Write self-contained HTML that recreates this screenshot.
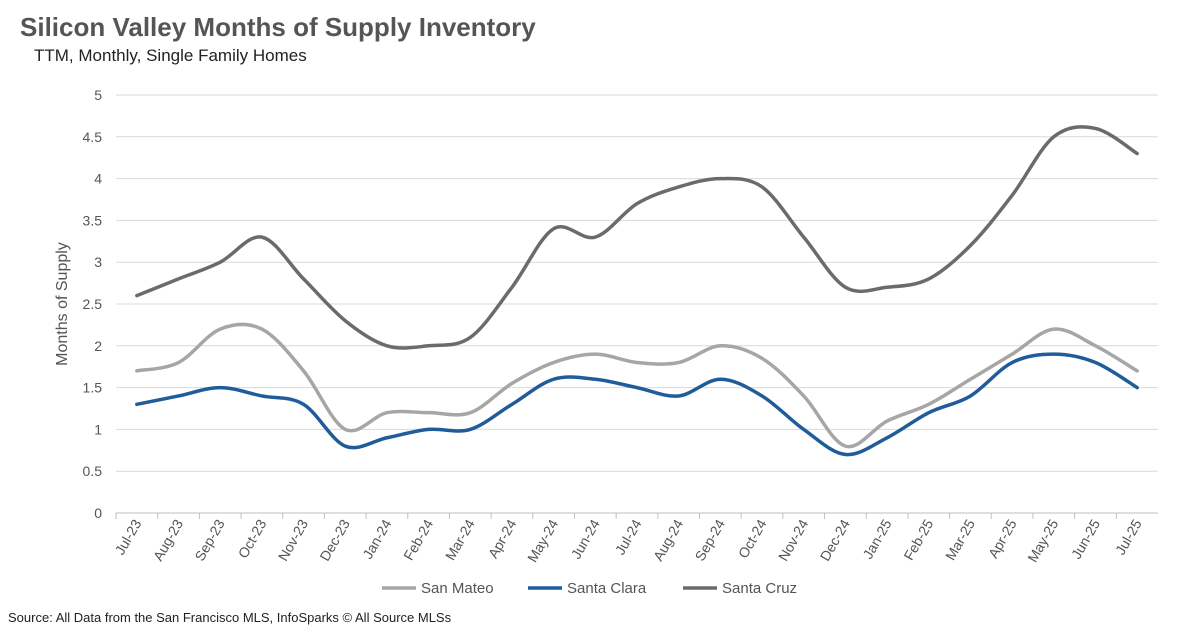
<!DOCTYPE html>
<html><head><meta charset="utf-8"><style>
body{margin:0;background:#fff;width:1178px;height:632px;overflow:hidden;font-family:"Liberation Sans",sans-serif}
</style></head><body>
<svg width="1178" height="632" xmlns="http://www.w3.org/2000/svg">
<text x="20" y="36" font-size="26" font-weight="bold" fill="#555">Silicon Valley Months of Supply Inventory</text>
<text x="34" y="61" font-size="17" fill="#222">TTM, Monthly, Single Family Homes</text>
<text transform="translate(67,304) rotate(-90)" text-anchor="middle" font-size="16" fill="#555">Months of Supply</text>
<g id="grid"></g><g id="series"></g><g id="xl"></g>
<g>
<line x1="382" y1="588" x2="416" y2="588" stroke="#a6a6a6" stroke-width="3.5"/><text x="421" y="593" font-size="15" fill="#555">San Mateo</text>
<line x1="528" y1="588" x2="562" y2="588" stroke="#1f5c99" stroke-width="3.5"/><text x="567" y="593" font-size="15" fill="#555">Santa Clara</text>
<line x1="683" y1="588" x2="717" y2="588" stroke="#6b6b6b" stroke-width="3.5"/><text x="722" y="593" font-size="15" fill="#555">Santa Cruz</text>
</g>
<text x="8" y="622" font-size="13" fill="#222">Source: All Data from the San Francisco MLS, InfoSparks © All Source MLSs</text>
</svg>
<script>
const categories=["Jul-23","Aug-23","Sep-23","Oct-23","Nov-23","Dec-23","Jan-24","Feb-24","Mar-24","Apr-24","May-24","Jun-24","Jul-24","Aug-24","Sep-24","Oct-24","Nov-24","Dec-24","Jan-25","Feb-25","Mar-25","Apr-25","May-25","Jun-25","Jul-25"];
const sanMateo=[1.7,1.8,2.2,2.2,1.7,1.0,1.2,1.2,1.2,1.55,1.8,1.9,1.8,1.8,2.0,1.85,1.4,0.8,1.1,1.3,1.6,1.9,2.2,2.0,1.7];
const santaClara=[1.3,1.4,1.5,1.4,1.3,0.8,0.9,1.0,1.0,1.3,1.6,1.6,1.5,1.4,1.6,1.4,1.0,0.7,0.9,1.2,1.4,1.8,1.9,1.8,1.5];
const santaCruz=[2.6,2.8,3.0,3.3,2.8,2.3,2.0,2.0,2.1,2.7,3.4,3.3,3.7,3.9,4.0,3.9,3.3,2.7,2.7,2.8,3.2,3.8,4.5,4.6,4.3];
const yTicks=[0,0.5,1,1.5,2,2.5,3,3.5,4,4.5,5];
const NS="http://www.w3.org/2000/svg";
const L=116,R=1158,T=95,B=513;
const step=(R-L)/categories.length;
const x=i=>L+step*(i+0.5);
const y=v=>B-(v/5)*(B-T);
function mk(tag,attrs,parent){const e=document.createElementNS(NS,tag);for(const k in attrs)e.setAttribute(k,attrs[k]);parent.appendChild(e);return e;}
const grid=document.getElementById('grid');
yTicks.forEach(t=>{
  const gl=mk('line',{x1:L,x2:R,y1:y(t),y2:y(t),stroke:'#d9d9d9','stroke-width':1},grid);
  
  
  const tx=mk('text',{x:L-14,y:y(t)+5,'text-anchor':'end','font-size':14,fill:'#555'},grid);
  tx.textContent=t;
  
  
});
const ax=mk('line',{x1:L,x2:R,y1:B,y2:B,stroke:'#bfbfbf'},grid);


const xl=document.getElementById('xl');
categories.forEach((c,i)=>{
  const tk=mk('line',{x1:L+step*i,x2:L+step*i,y1:B,y2:B+6,stroke:'#bfbfbf'},xl);
  
  
  const t=mk('text',{'text-anchor':'end','font-size':14,fill:'#555',transform:`translate(${x(i)+5},${B+10}) rotate(-60)`},xl);
  t.textContent=c;
  
  
});
function path(vals){
  const p=vals.map((v,i)=>[x(i),y(v)]);
  let d=`M${p[0][0]},${p[0][1]}`;
  for(let i=0;i<p.length-1;i++){
    const p0=p[Math.max(0,i-1)],p1=p[i],p2=p[i+1],p3=p[Math.min(p.length-1,i+2)];
    const k=1/6;
    d+=` C${p1[0]+(p2[0]-p0[0])*k},${p1[1]+(p2[1]-p0[1])*k} ${p2[0]-(p3[0]-p1[0])*k},${p2[1]-(p3[1]-p1[1])*k} ${p2[0]},${p2[1]}`;
  }
  return d;
}
const sg=document.getElementById('series');
[[sanMateo,'#a6a6a6','line-san-mateo'],[santaClara,'#1f5c99','line-santa-clara'],[santaCruz,'#6b6b6b','line-santa-cruz']].forEach(([v,c,n])=>{
  const pth=mk('path',{d:path(v),fill:'none',stroke:c,'stroke-width':3.5,'stroke-linecap':'round'},sg);
  
  
});
</script>
</body></html>
